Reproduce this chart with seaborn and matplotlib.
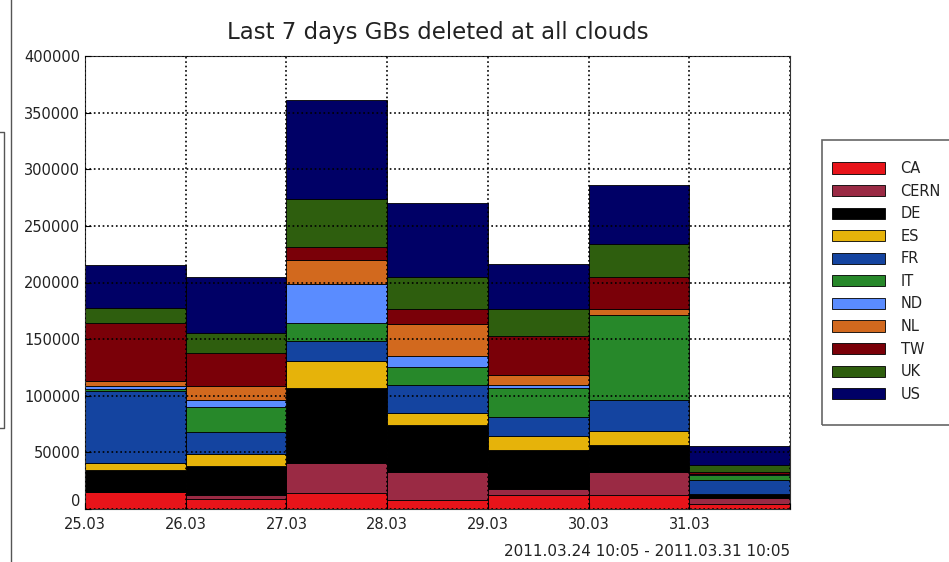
import numpy as np
import pandas as pd
import matplotlib
matplotlib.use("Agg")
import matplotlib.pyplot as plt
from matplotlib.patches import Patch, Rectangle
from matplotlib.lines import Line2D
import seaborn as sns

days = ["25.03", "26.03", "27.03", "28.03", "29.03", "30.03", "31.03"]
clouds = ["CA", "CERN", "DE", "ES", "FR", "IT", "ND", "NL", "TW", "UK", "US"]
colors = ["#e8141a", "#9a2a44", "#000000", "#e6b30a", "#1444a0", "#27882a",
          "#5a8cff", "#d2691e", "#7a0008", "#2e5e0e", "#000066"]

# GB deleted per day, one list per cloud
ca = [15000, 8500, 14000, 8000, 12000, 12000, 4000]
cern = [0, 4000, 27000, 25000, 6000, 21000, 6000]
de = [19000, 25500, 65500, 41000, 34500, 23500, 3000]
es = [7000, 11000, 24500, 11000, 12000, 12500, 500]
fr = [63000, 19000, 17000, 24500, 17000, 27000, 12000]
it = [2000, 22000, 16000, 16000, 25000, 75500, 4500]
nd = [3000, 6000, 35000, 10000, 3000, 0, 500]
nl = [4000, 13000, 21000, 28000, 9000, 5000, 500]
tw = [51500, 29000, 11000, 13000, 34000, 28000, 2000]
uk = [13000, 17000, 43000, 28000, 24000, 29500, 6000]
us = [38000, 50000, 87500, 66000, 39500, 52500, 17000]

period = "2011.03.24 10:05 - 2011.03.31 10:05"

deleted = [ca, cern, de, es, fr, it, nd, nl, tw, uk, us]
rows = []
for cloud, vals in zip(clouds, deleted):
    for i, v in enumerate(vals):
        rows.append({"day": i + 0.5, "cloud": cloud, "GB": v})
df = pd.DataFrame(rows)

W, H = 949, 562
fig = plt.figure(figsize=(W / 100, H / 100), dpi=100)
ax = fig.add_axes([85 / W, 1 - 509 / H, 705 / W, 453 / H])

# seaborn stacks the first hue level on top, so reverse to get CA at the bottom
sns.histplot(data=df, x="day", weights="GB", hue="cloud", hue_order=clouds[::-1],
             palette=dict(zip(clouds, colors)), multiple="stack", bins=7, binrange=(0, 7),
             shrink=1, alpha=1, edgecolor="black", linewidth=0.6, legend=False, ax=ax)

ax.set_xlim(0, 7)
ax.set_ylim(0, 400000)
ax.set_xticks(range(8))
ax.set_xticklabels(days + [""])
ax.set_yticks(range(0, 400001, 50000))
ax.set_yticklabels([str(v) for v in range(0, 400001, 50000)])
ax.set_xlabel("")
ax.set_ylabel("")
ax.grid(True, color="black", linestyle=":", linewidth=1.2)
ax.set_axisbelow(False)
ax.tick_params(direction="in", labelsize=10.5, labelcolor="#222222", length=4)
ax.tick_params(axis="x", pad=5.5)
for s in ax.spines.values():
    s.set_color("#333333")
ax.set_title("Last 7 days GBs deleted at all clouds", fontsize=16.5, color="#222222", pad=12)

# the "0" label sits a little higher, just touching "25.03"
ax.get_yticklabels()[0].set_verticalalignment("bottom")

fig.text(790 / W, 1 - 552 / H, period, ha="right", va="center", fontsize=11, color="#222222")

# legend box, partly cut off by the right edge of the picture
fig.add_artist(Rectangle((822 / W, 1 - 425 / H), 140 / W, 285 / H, transform=fig.transFigure,
                         fill=False, edgecolor="#666666", linewidth=1.2, clip_on=False))
handles = [Patch(facecolor=c, edgecolor="black", linewidth=0.6, label=n) for n, c in zip(clouds, colors)]
leg = fig.legend(handles=handles, loc="upper left", bbox_to_anchor=(832 / W, 1 - 161 / H),
                 fontsize=10.5, handlelength=3.6, handleheight=0.8, labelspacing=0.52,
                 handletextpad=1.1, borderpad=0, borderaxespad=0, frameon=False)
for t in leg.get_texts():
    t.set_color("#222222")

# stray lines along the left edge of the screenshot
fig.add_artist(Line2D([11 / W, 11 / W], [0, 1], transform=fig.transFigure, color="#555555", lw=1))
fig.add_artist(Line2D([0, 4 / W, 4 / W, 0], [1 - 132 / H, 1 - 132 / H, 1 - 428 / H, 1 - 428 / H],
                      transform=fig.transFigure, color="#555555", lw=1))

fig.savefig("out.png", dpi=100)
